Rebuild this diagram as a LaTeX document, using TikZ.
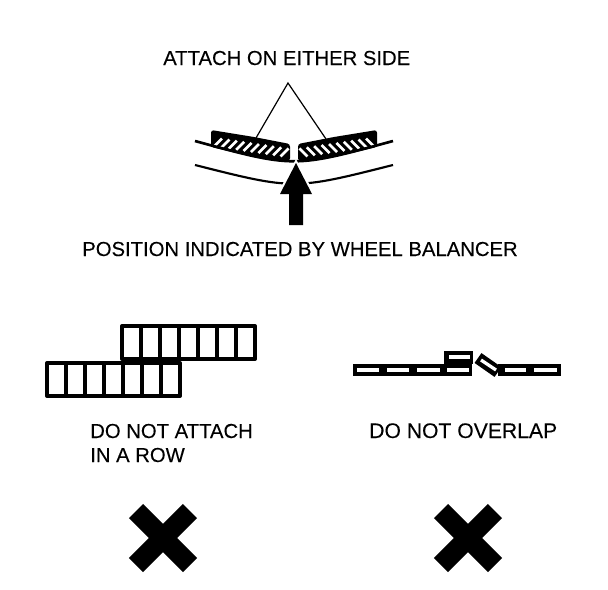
\documentclass[tikz,border=0pt]{standalone}
\usepackage{fontspec}
\setmainfont{Liberation Sans}[FakeBold=0.12]
\tikzset{
    label/.style={anchor=base west, inner sep=0pt, font=\fontsize{15.2}{18}\selectfont},
    tile/.style={draw=black, line width=3pt, line join=round},
    divider/.style={line width=3pt},
    slot/.style={white, line width=2.4pt},
    hatch/.style={white, line width=2.1pt},
    crossarm/.style={line width=15pt},
}
\begin{document}
\begin{tikzpicture}[x=0.75pt, y=-0.75pt]
    \useasboundingbox (0,0) rectangle (608,590);

    % popisky
    \node[label] (either) at (163,65) {ATTACH ON EITHER SIDE};
    \node[label] (position) at (82,256) {POSITION INDICATED BY WHEEL BALANCER};
    \node[label] (row) at (90,438) {DO NOT ATTACH};
    \node[label] (rowb) at (90,462) {IN A ROW};
    \node[label, font=\fontsize{15.85}{18}\selectfont] (overlap) at (369,438) {DO NOT OVERLAP};

    % vodítka k závažím
    \coordinate (apex) at (288,83);
    \coordinate (leftweight) at (256,138);
    \coordinate (rightweight) at (326,139);
    \draw[line width=0.9pt] (leftweight)--(apex)--(rightweight);

    % závaží
    \foreach \mirror in {1,-1} {
        \begin{scope}[shift={(294,0)}, xscale=\mirror]
            \fill[rounded corners=2pt] (-83,130)--(-40,137)--(-4,144)--(-4,161)--(-40,157)--(-83,147)--cycle;
            \foreach \i in {0,...,9} {
                \draw[hatch] ({-76+7.4*\i-4},{142.5+\i*1.1+4})--({-76+7.4*\i+4},{142.5+\i*1.1-4});
            }
        \end{scope}
    }

    % ráfek
    \draw[line width=2pt] (195,141) .. controls (294,168) .. (393,141);
    \draw[line width=1.6pt] (195,165) .. controls (294,190) .. (393,165);

    % šipka
    \fill[white] (277,195)--(296,159)--(315,195)--cycle;
    \fill (296,163)--(312,194)--(303,194)--(303,225)--(289,225)--(289,194)--(280,194)--cycle;

    % řada vedle sebe
    \draw[tile] (122,326) rectangle (255,359);
    \foreach \i in {1,...,6} {
        \draw[divider] ({122+19*\i},326)--({122+19*\i},359);
    }
    \draw[tile] (47,363) rectangle (180,396);
    \foreach \i in {1,...,6} {
        \draw[divider] ({47+19*\i},363)--({47+19*\i},396);
    }

    % překrytí
    \fill (353,364) rectangle (472,376);
    \fill (444,351) rectangle (473,364);
    \fill (498,364) rectangle (561,376);
    \draw[line width=9pt] (478,358)--(498,372);
    \draw[slot] (481,360)--(496,370);
    \foreach \a/\b in {357/379,387/409,417/440,447/469,505/526,534/557} {
        \draw[slot] (\a,370)--(\b,370);
    }
    \draw[slot] (449,357)--(470,357);

    % křížky
    \foreach \cx in {163,468} {
        \begin{scope}[shift={(\cx,538)}]
            \draw[crossarm] (-27,-27)--(27,27);
            \draw[crossarm] (27,-27)--(-27,27);
        \end{scope}
    }
\end{tikzpicture}
\end{document}
